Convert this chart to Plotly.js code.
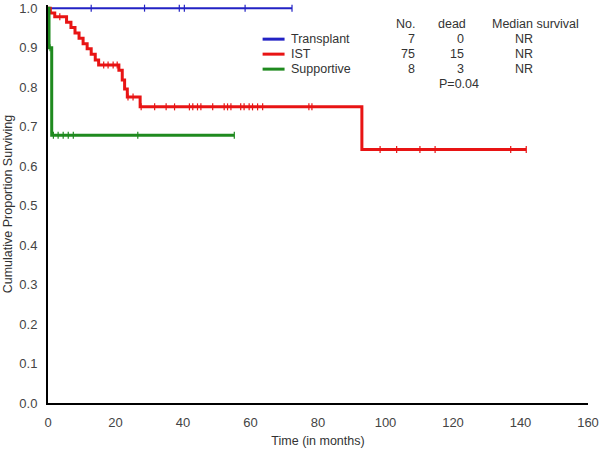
<!DOCTYPE html>
<html>
<head>
<meta charset="utf-8">
<script src="https://cdn.plot.ly/plotly-3.0.1.min.js"></script>
<style>html,body{margin:0;padding:0;background:#fff}#chart{width:600px;height:450px}</style>
</head>
<body>
<div id="chart"></div>
<script>
// ---- data ----
const transplantT = [0, 72.3];
const transplantS = [1.0, 1.0];
const transplantCensor = [12.8, 28.6, 38.9, 40.4, 58.4, 72.3];

const istT = [0, 0.7, 2.0, 5.5, 6.8, 8.0, 9.2, 10.4, 11.6, 12.8, 14.0, 15.0, 21.0, 22.0, 22.7, 23.5, 27.3, 93.0, 141.7];
const istS = [1.0, 0.988, 0.978, 0.964, 0.951, 0.937, 0.924, 0.910, 0.897, 0.883, 0.869, 0.856, 0.843, 0.818, 0.795, 0.775, 0.750, 0.642, 0.642];
const istCensor = [3.5, 16.5, 17.8, 19.3, 20.5, 23.7, 25.2,
  27.6, 31.6, 35.0, 37.5, 41.9, 42.9, 44.3, 45.3, 48.8, 52.2, 53.2, 54.2, 57.1, 58.1, 59.6, 60.6, 62.1, 63.6, 77.3, 78.2,
  98.4, 103.3, 110.2, 114.7, 137.1, 141.7];

const supT = [0, 0.3, 1.1, 55.2];
const supS = [1.0, 0.9, 0.678, 0.678];
const supCensor = [0.6, 1.6, 3.0, 4.5, 6.0, 7.5, 26.6, 55.2];

const groupNames = ['Transplant', 'IST', 'Supportive'];
const groupN = ['7', '75', '8'];
const groupDead = ['0', '15', '3'];
const groupMedian = ['NR', 'NR', 'NR'];
const pValueText = 'P=0.04';
const xTicks = [0, 20, 40, 60, 80, 100, 120, 140, 160];
const yTicks = [0, 0.1, 0.2, 0.3, 0.4, 0.5, 0.6, 0.7, 0.8, 0.9, 1.0];

// ---- drawing ----
const colors = ['#2222c4', '#e81414', '#1f8a1f'];
const widths = [2, 3, 3];
const series = [
  {T: transplantT, S: transplantS, C: transplantCensor},
  {T: istT, S: istS, C: istCensor},
  {T: supT, S: supS, C: supCensor}
];
function survAt(T, S, t) {
  let v = S[0];
  for (let i = 0; i < T.length; i++) { if (T[i] <= t + 1e-9) v = S[i]; }
  return v;
}
const traces = [];
series.forEach((s, k) => {
  traces.push({
    x: s.T, y: s.S, type: 'scatter', mode: 'lines', name: groupNames[k],
    line: {color: colors[k], width: widths[k], shape: 'hv'}, showlegend: false, hoverinfo: 'skip'
  });
  traces.push({
    x: s.C, y: s.C.map(t => survAt(s.T, s.S, t)), type: 'scatter', mode: 'markers',
    marker: {symbol: 'line-ns', size: 5, line: {color: colors[k], width: 1.2}},
    showlegend: false, hoverinfo: 'skip', cliponaxis: false
  });
});

// legend/table (pixel helper -> data coordinates)
const X0 = 48, PXU = 541 / 160, Y0 = 403, PYU = 395;
const dx = px => (px - X0) / PXU;
const dy = py => (Y0 - py) / PYU;
const txtFont = {family: 'Liberation Sans, Arial, sans-serif', size: 12.5, color: '#333'};
const annotations = [];
const shapes = [];
const rowY = [39, 54, 69];
const hdrY = 24;
annotations.push({x: dx(418), y: dy(hdrY), text: 'No.', xanchor: 'right', yanchor: 'middle', showarrow: false, font: txtFont});
annotations.push({x: dx(453), y: dy(hdrY), text: 'dead', xanchor: 'center', yanchor: 'middle', showarrow: false, font: txtFont});
annotations.push({x: dx(536), y: dy(hdrY), text: 'Median survival', xanchor: 'center', yanchor: 'middle', showarrow: false, font: txtFont});
groupNames.forEach((g, k) => {
  shapes.push({type: 'line', xref: 'x', yref: 'y', x0: dx(263), x1: dx(285), y0: dy(rowY[k]), y1: dy(rowY[k]),
    line: {color: colors[k], width: 3}});
  annotations.push({x: dx(289), y: dy(rowY[k]), text: g, xanchor: 'left', yanchor: 'middle', showarrow: false, font: txtFont});
  annotations.push({x: dx(418), y: dy(rowY[k]), text: groupN[k], xanchor: 'right', yanchor: 'middle', showarrow: false, font: txtFont});
  annotations.push({x: dx(467), y: dy(rowY[k]), text: groupDead[k], xanchor: 'right', yanchor: 'middle', showarrow: false, font: txtFont});
  annotations.push({x: dx(525), y: dy(rowY[k]), text: groupMedian[k], xanchor: 'center', yanchor: 'middle', showarrow: false, font: txtFont});
});
annotations.push({x: dx(460), y: dy(84), text: pValueText, xanchor: 'center', yanchor: 'middle', showarrow: false, font: txtFont});

const tickFont = {family: 'Liberation Sans, Arial, sans-serif', size: 13, color: '#444'};
const layout = {
  width: 600, height: 450,
  margin: {l: 48, r: 12, t: 5, b: 47, pad: 0},
  paper_bgcolor: '#fff', plot_bgcolor: '#fff',
  showlegend: false,
  font: {family: 'Liberation Sans, Arial, sans-serif', color: '#333'},
  xaxis: {
    range: [0, 160], tickvals: xTicks, ticktext: xTicks.map(String),
    showline: true, linecolor: '#000', linewidth: 2, showgrid: false, zeroline: false,
    ticks: '', ticklabelstandoff: 6, tickfont: tickFont,
    title: {text: 'Time (in months)', font: {size: 12.5, color: '#333', family: 'Liberation Sans, Arial, sans-serif'}, standoff: 8}
  },
  yaxis: {
    range: [0, 1.008], tickvals: yTicks, ticktext: yTicks.map(v => v.toFixed(1)),
    showline: true, linecolor: '#000', linewidth: 2, showgrid: false, zeroline: false,
    ticks: '', ticklabelstandoff: 6, tickfont: tickFont,
    title: {text: 'Cumulative Proportion Surviving', font: {size: 12.5, color: '#333', family: 'Liberation Sans, Arial, sans-serif'}, standoff: 4}
  },
  annotations: annotations,
  shapes: shapes
};
Plotly.newPlot('chart', traces, layout, {displayModeBar: false, staticPlot: true});
</script>
</body>
</html>
